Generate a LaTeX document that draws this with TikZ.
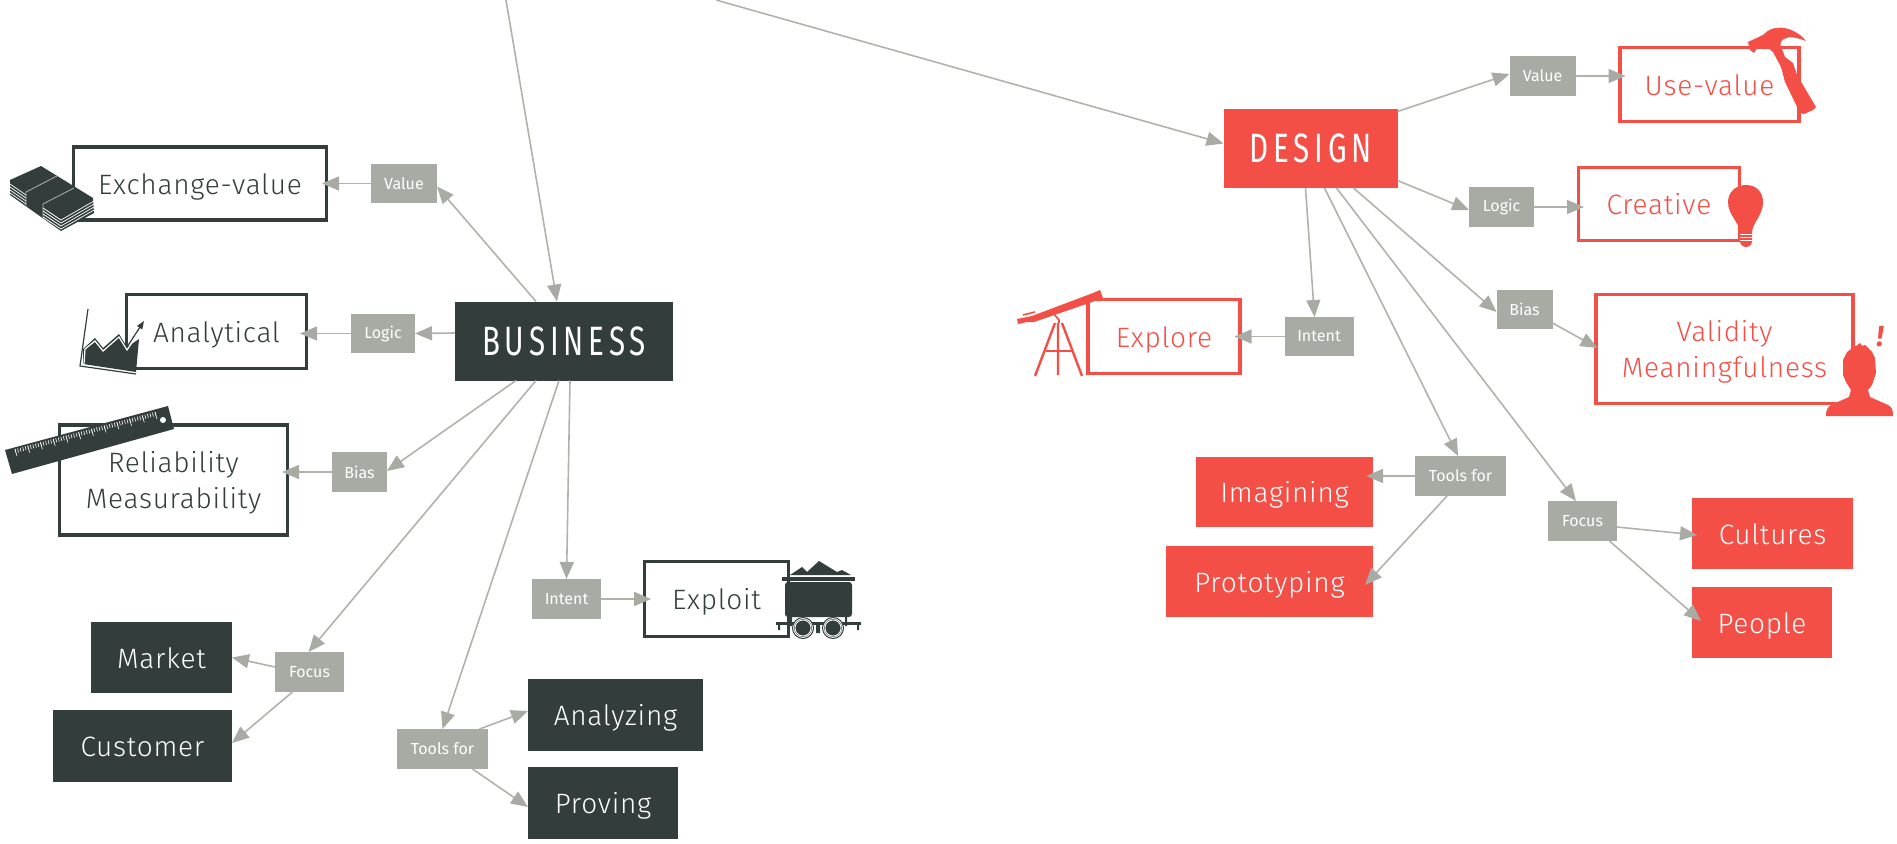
\documentclass[tikz,border=0pt]{standalone}
\usepackage{fontspec}
\usetikzlibrary{positioning,arrows.meta,calc}
\newfontfamily\boxfont[LetterSpace=2.6]{Fira Sans Light}
\newfontfamily\tagfont{Fira Sans}
\newfontfamily\headfont[FakeStretch=0.72,LetterSpace=12]{Fira Sans}
\definecolor{darkslate}{HTML}{333D3B}
\definecolor{coral}{HTML}{F44F47}
\definecolor{tagray}{HTML}{A8ABA3}
\definecolor{linegray}{HTML}{B0B2AB}
\tikzset{
    base/.style={inner sep=0pt,outer sep=0pt,align=center},
    size/.style n args={2}{minimum width=#1,minimum height=#2},
    tagbox/.style={base,fill=tagray,text=white,font=\tagfont\fontsize{16}{20}\selectfont},
    head/.style={base,fill=#1,text=white,font=\headfont\fontsize{41}{50}\selectfont},
    lowered/.style={text height=26pt,text depth=5pt},
    twolines/.style={text height=#1,text depth=5pt},
    solid box/.style={base,lowered,fill=#1,text=white,font=\boxfont\fontsize{28}{36}\selectfont},
    open box/.style={base,lowered,draw=#1,line width=3.4pt,fill=white,text=#1,font=\boxfont\fontsize{28}{36}\selectfont},
    link/.style={draw=linegray,line width=1.6pt,-{Triangle[length=17pt,width=14pt,color=tagray]}},
    into/.style={shorten >=-#1},
}
\begin{document}
\begin{tikzpicture}[x=1pt,y=-1pt]
    \useasboundingbox (0,0) rectangle (1897,843);

    \node[head=darkslate,size={218pt}{79pt}] (business) at (564,341) {BUSINESS};
    \node[head=coral,size={174pt}{79pt}] (design) at (1310.5,148.5) {DESIGN};

    \node[tagbox,size={66pt}{39pt}] (valuel) at (404,183.5) {Value};
    \node[tagbox,size={64pt}{39pt}] (logicl) at (383,333.5) {Logic};
    \node[tagbox,size={55pt}{40pt}] (biasl) at (359.5,472) {Bias};
    \node[tagbox,size={69pt}{40pt}] (intentl) at (566.5,599) {Intent};
    \node[tagbox,size={69pt}{40pt}] (focusl) at (309.5,672) {Focus};
    \node[tagbox,size={91pt}{40pt}] (toolsl) at (442.5,749) {Tools for};

    \node[tagbox,size={66pt}{40pt}] (valuer) at (1542.5,76) {Value};
    \node[tagbox,size={65pt}{40pt}] (logicr) at (1501.5,207) {Logic};
    \node[tagbox,size={56pt}{39pt}] (biasr) at (1524.5,309.5) {Bias};
    \node[tagbox,size={69pt}{39pt}] (intentr) at (1319,336.5) {Intent};
    \node[tagbox,size={91pt}{40pt}] (toolsr) at (1460.5,476) {Tools for};
    \node[tagbox,size={69pt}{40pt}] (focusr) at (1582.5,521) {Focus};

    \node[open box=darkslate,size={253pt}{73pt},left=44.5pt of valuel] (exchange) {Exchange-value};
    \node[open box=darkslate,size={180pt}{74pt},left=44.5pt of logicl,yshift=2pt] (analytical) {Analytical};
    \node[open box=darkslate,size={228pt}{110pt},left=44.5pt of biasl,yshift=-8pt,twolines=62pt] (reliability) {Reliability\\Measurability};
    \node[open box=darkslate,size={144pt}{75pt},right=43.5pt of intentl] (exploit) {Exploit};
    \node[solid box=darkslate,size={141pt}{71pt},left=43pt of focusl,yshift=14.5pt] (market) {Market};
    \node[solid box=darkslate,size={179pt}{72pt},left=43pt of focusl,yshift=-74pt] (customer) {Customer};
    \node[solid box=darkslate,size={175pt}{72pt},right=40pt of toolsl,yshift=34pt] (analyzing) {Analyzing};
    \node[solid box=darkslate,size={150pt}{72pt},right=40pt of toolsl,yshift=-54pt] (proving) {Proving};

    \node[open box=coral,size={179pt}{74pt},right=44.5pt of valuer,yshift=-8.5pt] (usevalue) {Use-value};
    \node[open box=coral,size={161pt}{73pt},right=44.5pt of logicr,yshift=3pt] (creative) {Creative};
    \node[open box=coral,size={257pt}{109pt},right=43.5pt of biasr,yshift=-39.5pt,twolines=61pt] (validity) {Validity\\Meaningfulness};
    \node[open box=coral,size={152pt}{74pt},left=44.5pt of intentr] (explore) {Explore};
    \node[solid box=coral,size={177pt}{70pt},left=42pt of toolsr,yshift=-16pt] (imagining) {Imagining};
    \node[solid box=coral,size={207pt}{71pt},left=42pt of toolsr,yshift=-105.5pt] (prototyping) {Prototyping};
    \node[solid box=coral,size={161pt}{71pt},right=75pt of focusr,yshift=-12.5pt] (cultures) {Cultures};
    \node[solid box=coral,size={140pt}{71pt},right=75pt of focusr,yshift=-101.5pt] (people) {People};

    \coordinate (topa) at (506,0);
    \coordinate (topb) at (716,0);

    \draw[link] (topa) -- ([xshift=-7pt]business.north);
    \draw[link] (topb) -- ([yshift=5pt]design.west);

    \draw[link] ([xshift=-28pt]business.north) -- ([yshift=-3pt]valuel.east);
    \draw[link,into=4.5pt] (valuel.west) -- (exchange.east);
    \draw[link] ([yshift=8pt]business.west) -- (logicl.east);
    \draw[link,into=6.5pt] (logicl.west) -- ([yshift=-2pt]analytical.east);
    \draw[link] ([xshift=-48pt]business.south) -- ([yshift=1pt]biasl.east);
    \draw[link,into=5.5pt] (biasl.west) -- ([yshift=8pt]reliability.east);
    \draw[link] ([xshift=6pt]business.south) -- (intentl.north);
    \draw[link,into=6.5pt] (intentl.east) -- (exploit.west);
    \draw[link] ([xshift=-28pt]business.south) -- ([xshift=-1pt]focusl.north);
    \draw[link] ([yshift=5pt]focusl.west) -- (market.east);
    \draw[link] ([xshift=-17pt]focusl.south) -- ([yshift=3pt]customer.east);
    \draw[link] ([xshift=-5pt]business.south) -- (toolsl.north);
    \draw[link] ([xshift=37pt]toolsl.north) -- ([yshift=4pt]analyzing.west);
    \draw[link] ([xshift=30pt]toolsl.south) -- ([yshift=-4pt]proving.west);

    \draw[link] ([yshift=37pt]design.east) -- ([yshift=2pt]valuer.west);
    \draw[link] (valuer.east) -- ([xshift=5.5pt,yshift=8.5pt]usevalue.west);
    \draw[link] ([yshift=-32pt]design.east) -- ([yshift=-3pt]logicr.west);
    \draw[link] (logicr.east) -- ([xshift=5.5pt,yshift=-3pt]creative.west);
    \draw[link] ([xshift=43pt]design.south) -- ([yshift=-2.5pt]biasr.west);
    \draw[link] ([yshift=-13.5pt]biasr.east) -- ([xshift=1.5pt,yshift=1pt]validity.west);
    \draw[link] ([xshift=-5pt]design.south) -- ([xshift=-4.5pt]intentr.north);
    \draw[link,into=5.5pt] (intentr.west) -- (explore.east);
    \draw[link] ([xshift=14pt]design.south) -- ([xshift=-2.5pt]toolsr.north);
    \draw[link] (toolsr.west) -- ([xshift=-7pt,yshift=16pt]imagining.east);
    \draw[link] ([xshift=-13.5pt]toolsr.south) -- ([xshift=-8pt,yshift=-3.5pt]prototyping.east);
    \draw[link] ([xshift=26pt]design.south) -- ([xshift=-6.5pt]focusr.north);
    \draw[link] ([yshift=-6pt]focusr.east) -- ([xshift=5pt,yshift=-1.5pt]cultures.west);
    \draw[link] ([xshift=27pt]focusr.south) -- ([xshift=9pt,yshift=1.5pt]people.west);

    % money
    \fill[darkslate] (10,180) -- (41,166) -- (93,198) -- (94,213) -- (61,231) -- (10,195) -- cycle;
    \draw[linegray,line width=.8pt] (26,207) -- (26,192) -- (57,176) (43,219) -- (43,204) -- (74,188);
    \foreach \i in {0,1,2,3} {
        \draw[white,line width=.7pt] (10,184+3*\i) -- (26,195+3*\i);
        \draw[white,line width=.7pt] (43,208+3*\i) -- (61,220+3*\i) -- (94,201+3*\i);
    }

    % chart
    \fill[darkslate] (83,349) -- (95,338) -- (103,348) -- (119,334) -- (127,347) -- (139,339) -- (136,372) -- (83,364) -- cycle;
    \draw[white,line width=1.2pt] (84,364) -- (85,349) -- (95,341) -- (103,351) -- (119,337) -- (127,350) -- (138,334);
    \draw[darkslate,line width=1.2pt] (88,309) -- (80,366) -- (136,374);
    \draw[darkslate,line width=1.2pt,-{Triangle[length=8pt,width=6pt]}] (127,347) -- (144,321);

    % ruler
    \fill[darkslate] (5,450) -- (168,406) -- (174,429) -- (12,474) -- cycle;
    \fill[white] (163,420) circle (3pt);
    \foreach \i in {0,...,55} {
        \draw[white,line width=.6pt] ($(15,449)!\i/55!(155,412)$) -- ++(1,4);
    }
    \foreach \i in {0,5,...,55} {
        \draw[white,line width=.6pt] ($(15,449)!\i/55!(155,412)$) -- ++(2,7);
    }

    % cart
    \fill[darkslate] (790,575) -- (802,567) -- (807,572) -- (819,561) -- (837,572) -- (842,570) -- (851,575) -- cycle;
    \fill[darkslate] (782,577) rectangle (855,581);
    \fill[darkslate,rounded corners=3pt] (785,582) -- (852,582) -- (852,617) -- (785,617) -- cycle;
    \fill[darkslate] (776,622) rectangle (861,625);
    \fill[darkslate] (778,622) rectangle (780,630) (857,622) rectangle (859,630) (816,625) rectangle (820,633);
    \fill[darkslate] (790,617) rectangle (792,626) (845,617) rectangle (847,626);
    \foreach \x in {803,833} {
        \filldraw[fill=darkslate,draw=white,line width=1pt] (\x,628) circle (9.5pt);
        \draw[darkslate,line width=1pt] (\x,628) circle (10.5pt);
        \draw[white,line width=.8pt] (\x,628) circle (8pt);
    }

    % hammer
    \fill[coral] (1748,42) -- (1763,35) .. controls (1768,30) and (1772,28) .. (1777,28) .. controls (1787,26) and (1800,33) .. (1806,41) .. controls (1798,38) and (1790,36) .. (1786,38) .. controls (1780,40) and (1780,44) .. (1781,47) -- (1785,57) -- (1793,63) -- (1797,75) -- (1816,107) -- (1813,110) -- (1804,114) -- (1800,113) -- (1785,82) -- (1781,67) -- (1773,52) -- (1767,47) -- (1757,48) -- (1754,53) -- (1750,50) -- cycle;

    % bulb
    \fill[coral] (1746,185) .. controls (1735,185) and (1728,193) .. (1728,202) .. controls (1728,215) and (1739,222) .. (1740,232) -- (1740,242) .. controls (1742,249) and (1750,249) .. (1752,242) -- (1752,232) .. controls (1753,222) and (1763,215) .. (1763,202) .. controls (1763,193) and (1757,185) .. (1746,185) -- cycle;
    \draw[white,line width=.8pt] (1740,234) -- (1752,234) (1740,237) -- (1752,237) (1740,240) -- (1752,240);

    % telescope
    \fill[coral] (1017,319) -- (1032,316) -- (1093,293) -- (1100,290) -- (1103,298) -- (1095,301) -- (1034,322) -- (1027,322) -- (1018,324) -- cycle;
    \draw[coral,line width=1.6pt] (1023,315) -- (1035,312) (1053,313) -- (1059,320) -- (1059,323);
    \draw[coral,line width=2.4pt] (1055,323) -- (1035,376) (1058,323) -- (1058,375) (1062,323) -- (1082,376);
    \draw[coral,line width=1.4pt] (1046,351) -- (1073,351);

    % person
    \fill[coral] (1860,343) -- (1862,346) -- (1865,345) -- (1868,348) -- (1872,352) -- (1875,358) -- (1876,373) -- (1872,385) -- (1868,390) -- (1870,397) -- (1888,405) .. controls (1892,407) and (1893,410) .. (1893,416) -- (1826,416) .. controls (1826,410) and (1827,407) .. (1833,404) -- (1849,397) -- (1851,390) -- (1846,382) -- (1843,375) -- (1843,360) -- (1847,352) -- (1851,349) -- (1853,345) -- (1856,346) -- cycle;
    \node[base,text=coral,font=\tagfont\bfseries\itshape\fontsize{29}{30}\selectfont] (bang) at (1880,337) {!};
\end{tikzpicture}
\end{document}
